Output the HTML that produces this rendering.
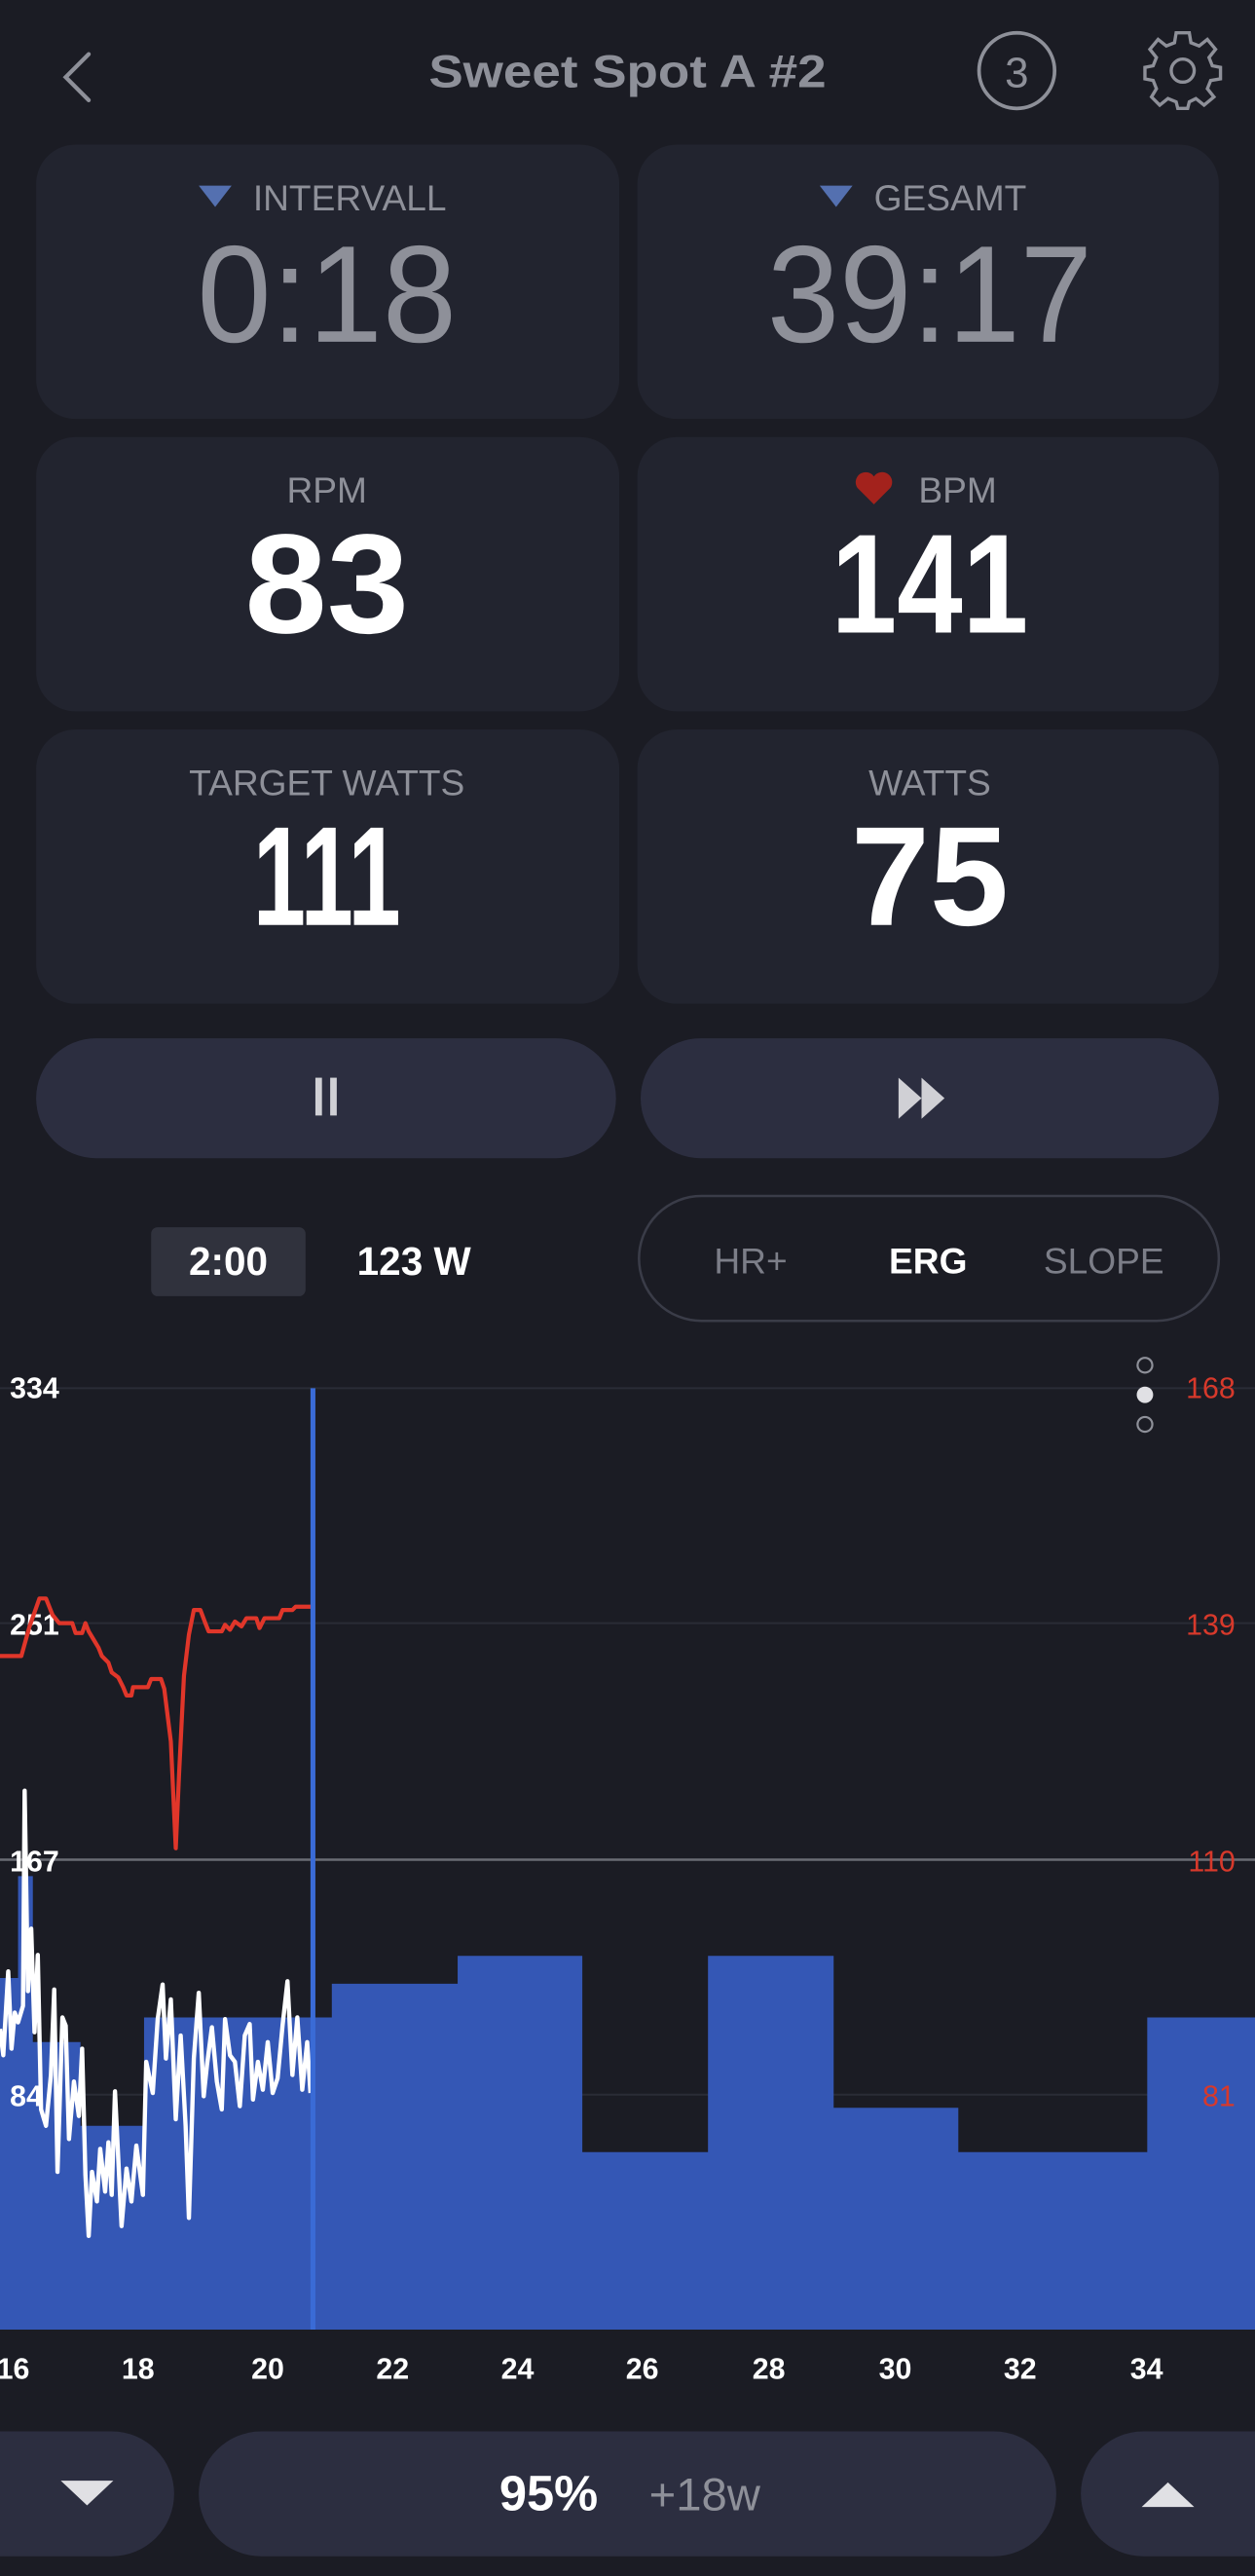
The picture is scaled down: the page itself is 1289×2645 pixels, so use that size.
<!DOCTYPE html>
<html><head><meta charset="utf-8"><style>
html,body{margin:0;padding:0;background:#1b1c24;}
svg{display:block;}
text{font-family:"Liberation Sans",sans-serif;}
</style></head><body>
<svg width="1289" height="2645" viewBox="0 0 764 1568" preserveAspectRatio="none" xmlns="http://www.w3.org/2000/svg">
<rect width="764" height="1568" fill="#1b1c24"/>
<!-- header -->
<polyline points="54,33 40,47 54,61" fill="none" stroke="#8e9099" stroke-width="2.5" stroke-linecap="round"/>
<text x="382" y="53" text-anchor="middle" font-size="28" font-weight="bold" fill="#8e9099" textLength="242" lengthAdjust="spacingAndGlyphs">Sweet Spot A #2</text>
<circle cx="619" cy="43" r="23" fill="none" stroke="#8e9099" stroke-width="2.2"/>
<text x="619" y="53" text-anchor="middle" font-size="26" fill="#8e9099">3</text>
<g transform="translate(720,43)" fill="none" stroke="#8e9099" stroke-width="2">
<path d="M-4,-22 L4,-22 L5,-16 L10,-14 L15,-18 L20,-12 L16,-7 L18,-2 L23,-1 L23,6 L17,7 L15,12 L19,17 L13,22 L8,18 L4,20 L3,24 L-3,24 L-4,20 L-9,18 L-14,22 L-19,17 L-16,12 L-18,7 L-23,6 L-23,-1 L-18,-2 L-16,-7 L-20,-12 L-15,-18 L-10,-14 L-5,-16 Z" transform="translate(0,-1)"/>
<circle cx="0" cy="0" r="7"/>
</g>
<!-- cards -->
<g fill="#22242f">
<rect x="22" y="88" width="355" height="167" rx="24"/>
<rect x="388" y="88" width="354" height="167" rx="24"/>
<rect x="22" y="266" width="355" height="167" rx="24"/>
<rect x="388" y="266" width="354" height="167" rx="24"/>
<rect x="22" y="444" width="355" height="167" rx="24"/>
<rect x="388" y="444" width="354" height="167" rx="24"/>
</g>
<polygon points="121,113 141,113 131,126" fill="#5470b0"/>
<text x="154" y="128" font-size="22" fill="#8e9099">INTERVALL</text>
<text x="199" y="208" text-anchor="middle" font-size="84" fill="#8e9099" textLength="158" lengthAdjust="spacingAndGlyphs">0:18</text>
<polygon points="499,113 519,113 509,126" fill="#5470b0"/>
<text x="532" y="128" font-size="22" fill="#8e9099">GESAMT</text>
<text x="566" y="208" text-anchor="middle" font-size="84" fill="#8e9099" textLength="198" lengthAdjust="spacingAndGlyphs">39:17</text>
<text x="199" y="306" text-anchor="middle" font-size="22" fill="#8e9099">RPM</text>
<text x="199" y="385" text-anchor="middle" font-size="86" font-weight="bold" fill="#fff" textLength="100" lengthAdjust="spacingAndGlyphs">83</text>
<path d="M532,307 L522,297 A5.5,5.5 0 0 1 532,290 A5.5,5.5 0 0 1 542,297 Z" fill="#a3221c"/>
<text x="583" y="306" text-anchor="middle" font-size="22" fill="#8e9099">BPM</text>
<text x="566" y="385" text-anchor="middle" font-size="86" font-weight="bold" fill="#fff" textLength="120" lengthAdjust="spacingAndGlyphs">141</text>
<text x="199" y="484" text-anchor="middle" font-size="22" fill="#8e9099">TARGET WATTS</text>
<text x="199" y="563" text-anchor="middle" font-size="86" font-weight="bold" fill="#fff" textLength="90" lengthAdjust="spacingAndGlyphs">111</text>
<text x="566" y="484" text-anchor="middle" font-size="22" fill="#8e9099">WATTS</text>
<text x="566" y="563" text-anchor="middle" font-size="86" font-weight="bold" fill="#fff" textLength="96" lengthAdjust="spacingAndGlyphs">75</text>
<!-- buttons -->
<rect x="22" y="632" width="353" height="73" rx="36.5" fill="#2c2e40"/>
<rect x="390" y="632" width="352" height="73" rx="36.5" fill="#2c2e40"/>
<rect x="192" y="656" width="4" height="23" fill="#d0d0d5"/>
<rect x="201" y="656" width="4" height="23" fill="#d0d0d5"/>
<polygon points="547,656 547,681 561,668.5" fill="#d0d0d5"/>
<polygon points="561,656 561,681 575,668.5" fill="#d0d0d5"/>
<rect x="92" y="747" width="94" height="42" rx="4" fill="#30323d"/>
<text x="139" y="776" text-anchor="middle" font-size="24" font-weight="bold" fill="#fff">2:00</text>
<text x="252" y="776" text-anchor="middle" font-size="24" font-weight="bold" fill="#fff">123 W</text>
<rect x="389" y="728" width="353" height="76" rx="38" fill="none" stroke="#3a3c48" stroke-width="1.5"/>
<text x="457" y="775" text-anchor="middle" font-size="22" fill="#7c7e88">HR+</text>
<text x="565" y="775" text-anchor="middle" font-size="22" font-weight="bold" fill="#fff">ERG</text>
<text x="672" y="775" text-anchor="middle" font-size="22" fill="#7c7e88">SLOPE</text>
<!-- chart grid -->
<g stroke="#2a2c36" stroke-width="1.2">
<line x1="0" y1="845" x2="764" y2="845"/>
<line x1="0" y1="988" x2="764" y2="988"/>
<line x1="0" y1="1275" x2="764" y2="1275"/>
</g>
<line x1="0" y1="1132" x2="764" y2="1132" stroke="#6a6c74" stroke-width="1.5"/>
<!-- bars -->
<path d="M0,1418 L0,1204 L11,1204 L11,1142 L20,1142 L20,1243 L49,1243 L49,1294 L87.7,1294 L87.7,1228 L202,1228 L202,1207.5 L278.6,1207.5 L278.6,1190.5 L354.5,1190.5 L354.5,1310 L431,1310 L431,1190.5 L507.5,1190.5 L507.5,1283 L583.4,1283 L583.4,1310 L698.4,1310 L698.4,1228 L764,1228 L764,1418 Z" fill="#3457b5"/>
<!-- left labels -->
<g font-size="18" font-weight="bold" fill="#fff">
<text x="6" y="851">334</text>
<text x="6" y="995">251</text>
<text x="6" y="1139">167</text>
<text x="6" y="1282">84</text>
</g>
<g font-size="18" fill="#d7392b" text-anchor="end">
<text x="752" y="851">168</text>
<text x="752" y="995">139</text>
<text x="752" y="1139">110</text>
<text x="752" y="1282">81</text>
</g>
<circle cx="697" cy="831" r="4.5" fill="none" stroke="#8e9099" stroke-width="1.3"/>
<circle cx="697" cy="849" r="5" fill="#e0e0e4"/>
<circle cx="697" cy="867" r="4.5" fill="none" stroke="#8e9099" stroke-width="1.3"/>
<!-- HR line -->
<polyline fill="none" stroke="#e0362a" stroke-width="2.5" stroke-linejoin="round" points="0,1008 13,1008 18,990 24,973 28,973 32,983 36,988 44,988 46,994 50,994 52,988 54,993 57,998 60,1003 62,1008 66,1012 68,1018 72,1021 75,1027 77,1032 80,1032 81,1027 90,1027 92,1022 98,1022 100,1028 104,1060 107,1125 109,1080 112,1020 115,995 118,980 122,980 125,988 127,993 135,993 137,989 140,992 143,987 147,990 150,985 156,985 158,991 161,985 170,985 172,980 178,980 180,978 190,978"/>
<!-- power line -->
<polyline fill="none" stroke="#fff" stroke-width="2.6" stroke-linejoin="round" points="0,1235 2,1251 5,1200 7,1247 9,1225 11,1231 14,1221 15,1090 17,1212 19,1174 21,1237 23,1190 25,1284 28,1294 31,1263 33,1211 35,1322 38,1228 40,1233 42,1302 45,1267 48,1288 50,1247 52,1324 54,1361 56,1322 59,1340 61,1308 64,1334 66,1304 68,1336 70,1273 74,1355 77,1320 80,1340 83,1306 87,1336 89,1255 93,1274 96,1229 99,1208 101,1253 104,1217 107,1290 110,1239 113,1294 115,1350 118,1253 121,1213 124,1276 126,1257 129,1234 132,1267 135,1284 137,1229 140,1251 143,1255 146,1282 149,1239 152,1232 154,1278 157,1255 160,1272 163,1243 166,1274 169,1265 172,1233 175,1206 178,1263 181,1228 184,1272 187,1243 189,1274"/>
<line x1="190.5" y1="845" x2="190.5" y2="1418" stroke="#3a6bd6" stroke-width="3"/>
<!-- x labels -->
<g font-size="18" font-weight="bold" fill="#fff" text-anchor="middle">
<text x="8" y="1448">16</text>
<text x="84" y="1448">18</text>
<text x="163" y="1448">20</text>
<text x="239" y="1448">22</text>
<text x="315" y="1448">24</text>
<text x="391" y="1448">26</text>
<text x="468" y="1448">28</text>
<text x="545" y="1448">30</text>
<text x="621" y="1448">32</text>
<text x="698" y="1448">34</text>
</g>
<!-- bottom controls -->
<rect x="-40" y="1480" width="146" height="76" rx="38" fill="#2c2e40"/>
<rect x="121" y="1480" width="522" height="76" rx="38" fill="#2c2e40"/>
<rect x="658" y="1480" width="146" height="76" rx="38" fill="#2c2e40"/>
<polygon points="37,1510 69,1510 53,1525" fill="#e0e0e4"/>
<polygon points="695,1526 727,1526 711,1511" fill="#e0e0e4"/>
<text x="334" y="1528" text-anchor="middle" font-size="30" font-weight="bold" fill="#fff">95%</text>
<text x="429" y="1528" text-anchor="middle" font-size="28" fill="#8e9099">+18w</text>
</svg>
</body></html>
